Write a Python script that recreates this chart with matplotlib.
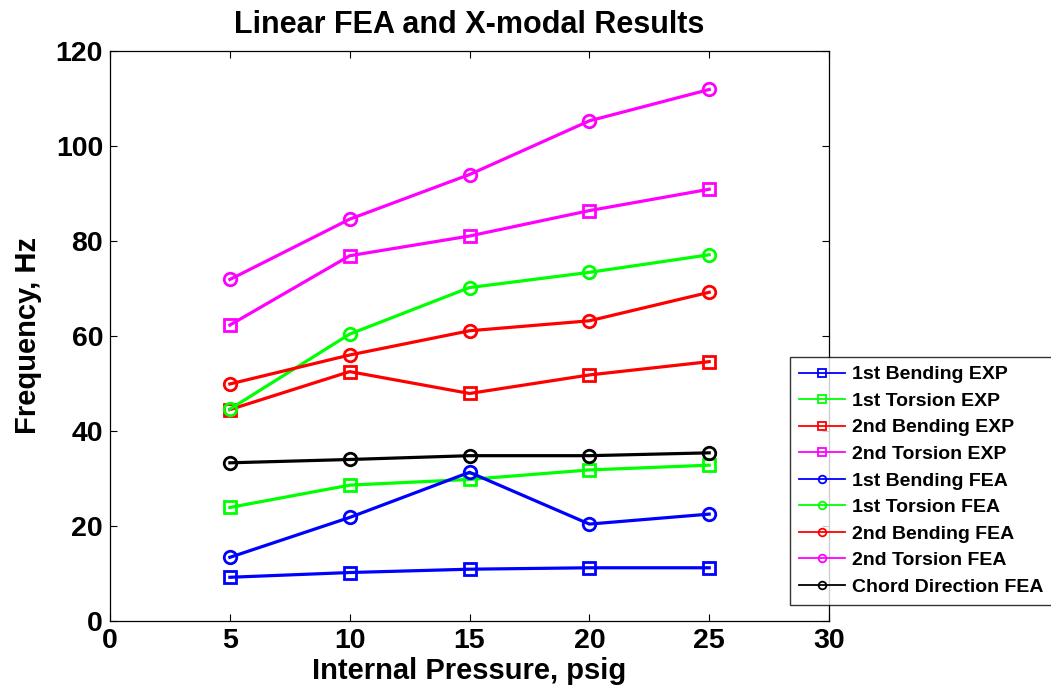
import matplotlib
matplotlib.use("Agg")
import matplotlib.pyplot as plt

plt.rcParams['font.family'] = ['Liberation Sans', 'DejaVu Sans']
plt.rcParams['font.weight'] = 'bold'

pressure = [5, 10, 15, 20, 25]

bend1_exp = [9.2, 10.2, 10.9, 11.2, 11.2]
tors1_exp = [23.9, 28.6, 29.8, 31.8, 32.8]
bend2_exp = [44.5, 52.5, 47.9, 51.8, 54.6]
tors2_exp = [62.3, 76.9, 81.05, 86.4, 90.9]
bend1_fea = [13.4, 21.8, 31.3, 20.4, 22.5]
tors1_fea = [44.6, 60.4, 70.2, 73.4, 77.1]
bend2_fea = [49.9, 56.0, 61.1, 63.2, 69.2]
tors2_fea = [71.9, 84.6, 94.0, 105.3, 111.9]
chord_fea = [33.3, 34.0, 34.8, 34.8, 35.4]

series = [
    ("1st Bending EXP", bend1_exp, "#0000ff", "s"),
    ("1st Torsion EXP", tors1_exp, "#00ff00", "s"),
    ("2nd Bending EXP", bend2_exp, "#ff0000", "s"),
    ("2nd Torsion EXP", tors2_exp, "#ff00ff", "s"),
    ("1st Bending FEA", bend1_fea, "#0000ff", "o"),
    ("1st Torsion FEA", tors1_fea, "#00ff00", "o"),
    ("2nd Bending FEA", bend2_fea, "#ff0000", "o"),
    ("2nd Torsion FEA", tors2_fea, "#ff00ff", "o"),
    ("Chord Direction FEA", chord_fea, "#000000", "o"),
]

xticks = [0, 5, 10, 15, 20, 25, 30]
yticks = [0, 20, 40, 60, 80, 100, 120]

fig = plt.figure(figsize=(10.51, 6.96), dpi=100)
ax = fig.add_axes([0.1047, 0.1078, 0.6841, 0.8189])

for label, vals, color, mk in series:
    ax.plot(pressure, vals, color=color, marker=mk, markersize=9,
            markerfacecolor='none', markeredgecolor=color, markeredgewidth=2,
            linewidth=2.3, label=label)

ax.set_xlim(0, 30)
ax.set_ylim(0, 120)
ax.set_xticks(xticks)
ax.set_yticks(yticks)
ax.tick_params(direction='in', length=5, width=0.8, top=True, right=True,
               labelsize=20.5, pad=5)
for lab in ax.get_xticklabels() + ax.get_yticklabels():
    lab.set_fontweight('bold')
for sp in ax.spines.values():
    sp.set_linewidth(0.9)

ax.set_xlabel("Internal Pressure, psig", fontsize=21, fontweight='bold', labelpad=2)
ax.set_ylabel("Frequency, Hz", fontsize=21, fontweight='bold', labelpad=10)
ax.set_title("Linear FEA and X-modal Results", fontsize=22, fontweight='bold', pad=13)

leg = fig.legend(loc='upper left', bbox_to_anchor=(790 / 1051, 1 - 357 / 696),
                 fontsize=14, frameon=True, fancybox=False, edgecolor='black',
                 handlelength=2.4, handletextpad=0.35, labelspacing=0.46,
                 borderpad=0.45, borderaxespad=0)
leg.get_frame().set_linewidth(1.0)
for h in leg.legend_handles:
    h.set_linewidth(1.3)
    h.set_markersize(5.5)
    h.set_markeredgewidth(1.3)
for t in leg.get_texts():
    t.set_fontweight('bold')

fig.savefig("out.png", dpi=100)
